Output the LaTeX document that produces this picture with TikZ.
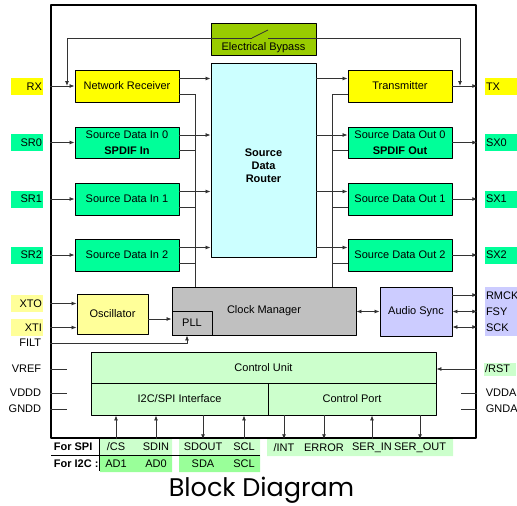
\documentclass[tikz,border=0pt]{standalone}
\usepackage{fontspec}
\setmainfont{Liberation Sans}
\newfontfamily\titlefont{Poppins}
\usetikzlibrary{arrows.meta}
\definecolor{cyel}{RGB}{255,255,0}
\definecolor{clyel}{RGB}{255,255,153}
\definecolor{cgrn}{RGB}{0,255,153}
\definecolor{clgrn}{RGB}{204,255,204}
\definecolor{cmgrn}{RGB}{153,255,153}
\definecolor{cgry}{RGB}{192,192,192}
\definecolor{clav}{RGB}{204,204,255}
\definecolor{ccyan}{RGB}{204,255,255}
\definecolor{cbyp}{RGB}{153,204,0}
\begin{document}
\fontsize{11}{13}\selectfont
\begin{tikzpicture}[x=1pt, y=-1pt, line join=round, >={Latex[length=5pt,width=4pt]},
	blk/.style={draw, line width=0.9pt, inner sep=1pt, align=center},
	pinl/.style={inner xsep=1pt, inner ysep=0pt, minimum height=17pt, text width=30pt, align=right},
	pinr/.style={inner xsep=1pt, inner ysep=0pt, minimum height=17pt, text width=30pt, align=left},
	wire/.style={draw=black!80, line width=0.8pt}]
	\useasboundingbox (0,0) rectangle (517,506);
	% chip outline
	\node[draw, line width=2.5pt, inner sep=0pt, minimum width=425pt, minimum height=433pt] (chip) at (263.5,221.5) {};
	% blocks
	\node[blk, fill=cbyp, minimum width=105pt, minimum height=32pt, label={[anchor=south, yshift=-1pt]south:Electrical Bypass}] (byp) at (263.5,39) {};
	\node[blk, fill=ccyan, minimum width=105pt, minimum height=194pt, label={[align=center, font=\bfseries, yshift=-6pt]center:Source\\Data\\Router}] (router) at (263.5,160) {};
	\node[blk, fill=cyel, minimum width=104pt, minimum height=32pt] (nr) at (127,86) {Network Receiver};
	\node[blk, fill=cgrn, minimum width=104pt, minimum height=31pt] (sdi0) at (127,142.5) {Source Data In 0\\[3pt]\textbf{SPDIF In}};
	\node[blk, fill=cgrn, minimum width=104pt, minimum height=32pt] (sdi1) at (127,199) {Source Data In 1};
	\node[blk, fill=cgrn, minimum width=104pt, minimum height=32pt] (sdi2) at (127,255) {Source Data In 2};
	\node[blk, fill=cyel, minimum width=104pt, minimum height=32pt] (tx) at (400,86) {Transmitter};
	\node[blk, fill=cgrn, minimum width=104pt, minimum height=31pt] (sdo0) at (400,142.5) {Source Data Out 0\\[3pt]\textbf{SPDIF Out}};
	\node[blk, fill=cgrn, minimum width=104pt, minimum height=32pt] (sdo1) at (400,199) {Source Data Out 1};
	\node[blk, fill=cgrn, minimum width=104pt, minimum height=32pt] (sdo2) at (400,255) {Source Data Out 2};
	\node[blk, fill=clyel, minimum width=71pt, minimum height=40pt] (osc) at (112.5,314) {Oscillator};
	\node[blk, fill=cgry, minimum width=184pt, minimum height=48pt] (cm) at (264,311) {Clock Manager};
	\node[blk, fill=cgry, minimum width=40pt, minimum height=24pt] (pll) at (192,323) {PLL};
	\node[blk, fill=clav, minimum width=72pt, minimum height=49pt] (async) at (416,311.5) {Audio Sync};
	\node[blk, fill=clgrn, minimum width=345pt, minimum height=31pt] (cu) at (263.5,367.5) {Control Unit};
	\node[blk, fill=clgrn, minimum width=177pt, minimum height=32pt] (i2c) at (179.5,399) {I2C/SPI Interface};
	\node[blk, fill=clgrn, minimum width=168pt, minimum height=32pt] (cp) at (352,399) {Control Port};
	% pins left
	\node[pinl, fill=cyel] (rx) at (27,86.5) {RX};
	\node[pinl, fill=cgrn] (sr0) at (27,142.5) {SR0};
	\node[pinl, fill=cgrn] (sr1) at (27,199) {SR1};
	\node[pinl, fill=cgrn] (sr2) at (27,255) {SR2};
	\node[pinl, fill=clyel] (xto) at (27,303.5) {XTO};
	\node[pinl, fill=clyel] (xti) at (27,327.5) {XTI};
	\node[anchor=east] (filt) at (45,343) {FILT};
	\node[anchor=east] (vref) at (45,369) {VREF};
	\node[anchor=east] (vddd) at (45,393) {VDDD};
	\node[anchor=east] (gndd) at (45,409) {GNDD};
	% pins right
	\node[pinr, fill=cyel] (txp) at (501,86.5) {TX};
	\node[pinr, fill=cgrn] (sx0) at (501,142.5) {SX0};
	\node[pinr, fill=cgrn] (sx1) at (501,199) {SX1};
	\node[pinr, fill=cgrn] (sx2) at (501,255) {SX2};
	\node[pinr, fill=clav, minimum height=49pt] (asp) at (501,311.5) {RMCK\\[3pt]FSY\\[3pt]SCK};
	\node[pinr, fill=clgrn, minimum height=13pt] (rst) at (500,369) {/RST};
	\node[anchor=west] (vdda) at (482,393) {VDDA};
	\node[anchor=west] (gnda) at (482,409) {GNDA};
	% pins bottom
	\fill[clgrn] (100,439) rectangle (172,455) (179,439) rectangle (260,455) (267,439) rectangle (453,456);
	\fill[cmgrn] (100,455) rectangle (172,472) (179,455) rectangle (260,472);
	\draw (51,455) -- (260,455);
	\draw (99,439) -- (99,471);
	\node[anchor=west, font=\bfseries] (forspi) at (50,447) {For SPI};
	\node[anchor=west, font=\bfseries] (fori2c) at (50,464) {For I2C :};
	\node (cs) at (116,447) {/CS};
	\node (sdin) at (156,447) {SDIN};
	\node (sdout) at (203,447) {SDOUT};
	\node (scl) at (244,447) {SCL};
	\node (ad1) at (116,464) {AD1};
	\node (ad0) at (156,464) {AD0};
	\node (sda) at (203,464) {SDA};
	\node (scl2) at (244,464) {SCL};
	\node (int) at (284,448) {/INT};
	\node (err) at (324,448) {ERROR};
	\node (serin) at (372,448) {SER\_IN};
	\node (serout) at (420,448) {SER\_OUT};
	% electrical bypass
	\coordinate (swa) at (252,38);
	\coordinate (swb) at (268,38);
	\coordinate (swt) at (268,30);
	\coordinate (rxj) at (67,86);
	\coordinate (txj) at (460,86);
	\draw[wire, ->] (swa) -| (rxj);
	\draw[wire] (swa) -- (swt);
	\draw[wire, ->] (swb) -| (txj);
	% router busses
	\coordinate (lbus) at (195,94);
	\coordinate (rbus) at (332,94);
	\draw[wire] (lbus) -- (lbus |- cm.north);
	\draw[wire] (rbus) -- (rbus |- cm.north);
	\foreach \n in {nr,sdi0,sdi1,sdi2} {
		\draw[wire, ->] ([yshift=7.5pt]\n.east) -- ([yshift=7.5pt]\n.east -| router.west);
		\draw[wire] ([yshift=-8pt]\n.east) -- ++(16,0);
	}
	\foreach \n in {tx,sdo0,sdo1,sdo2} {
		\draw[wire, ->] ([yshift=7.5pt]\n.west -| router.east) -- ([yshift=7.5pt]\n.west);
		\draw[wire] ([yshift=-8pt]\n.west) -- ++(-16,0);
	}
	% inputs and outputs
	\foreach \p/\b in {rx/nr,sr0/sdi0,sr1/sdi1,sr2/sdi2}
		\draw[wire, ->] (chip.west |- \b.west) -- (\b.west);
	\foreach \b/\p in {tx/txp,sdo0/sx0,sdo1/sx1,sdo2/sx2}
		\draw[wire, ->] (\b.east) -- (chip.east |- \b.east);
	\draw[wire, ->] (chip.west |- xto) -- (osc.west |- xto);
	\draw[wire, ->] (chip.west |- xti) -- (osc.west |- xti);
	\draw[wire, ->] ([yshift=-5pt]osc.east) -- ([yshift=-5pt]osc.east -| pll.west);
	\draw[wire, ->] (chip.west |- filt) -| ([xshift=-5pt]pll.south);
	\draw[wire, <->] (cm.east |- async.west) -- (async.west);
	\draw[wire, ->] ([yshift=16.5pt]async.east) -- ([yshift=16.5pt]async.east -| chip.east);
	\draw[wire, <->] (async.east) -- (async.east -| chip.east);
	\draw[wire, <->] ([yshift=-15.5pt]async.east) -- ([yshift=-15.5pt]async.east -| chip.east);
	\draw[wire, ->] (chip.east |- rst) -- (cu.east |- rst);
	\foreach \p in {vref,vddd,gndd}
		\draw[wire] (chip.west |- \p) -- ++(17,0);
	\foreach \p in {vdda,gnda}
		\draw[wire] (chip.east |- \p) -- ++(-16,0);
	% control pins
	\foreach \p in {cs,sdin,scl}
		\draw[wire, ->] (\p |- chip.south) -- (\p |- i2c.south);
	\draw[wire, ->] (sdout |- i2c.south) -- (sdout |- chip.south);
	\foreach \p in {int,err,serout}
		\draw[wire, ->] (\p |- cp.south) -- (\p |- chip.south);
	\draw[wire, ->] (serin |- chip.south) -- (serin |- cp.south);
	\node[font=\titlefont\fontsize{25.5}{30}\selectfont] (title) at (261.5,490) {Block Diagram};
\end{tikzpicture}
\end{document}
